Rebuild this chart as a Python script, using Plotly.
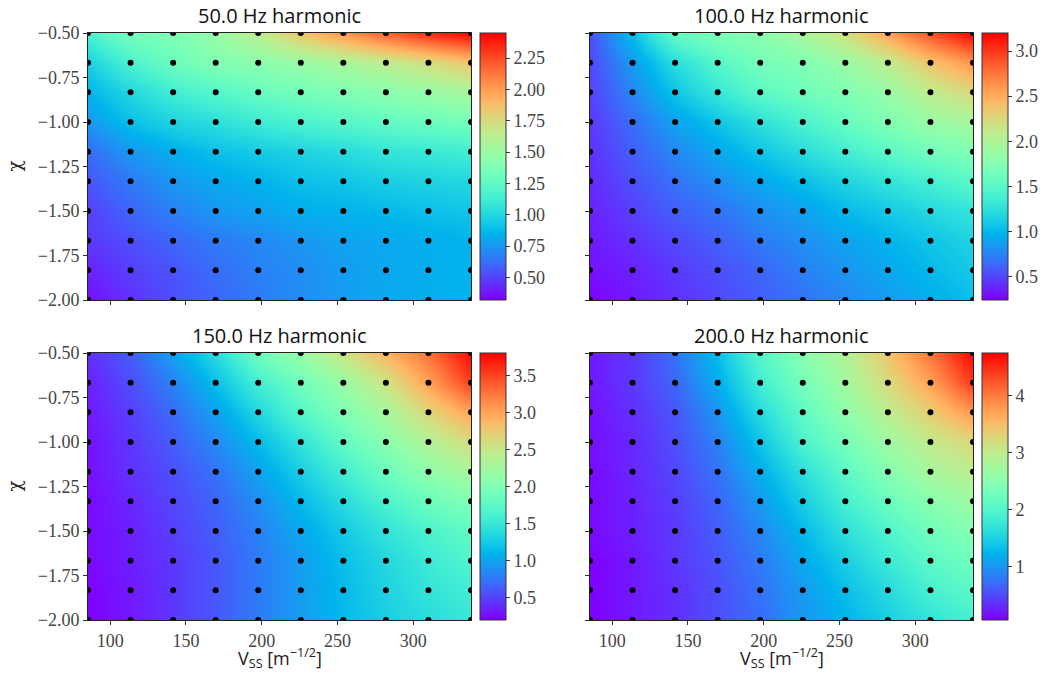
import math
import plotly.graph_objects as go

# Sampling grid: stream velocity scale (x) and spectral index chi (y)
vss = [85.3, 113.4, 141.5, 169.6, 197.7, 225.8, 253.9, 282.0, 310.1, 338.2]
chi = [-2.0, -1.833, -1.667, -1.5, -1.333, -1.167, -1.0, -0.833, -0.667, -0.5]

# Harmonic amplitude on the grid, one row per chi value (bottom to top)
amp_50 = [
    [0.36, 0.45, 0.53, 0.60, 0.66, 0.72, 0.77, 0.81, 0.83, 0.85],
    [0.41, 0.49, 0.55, 0.62, 0.68, 0.72, 0.77, 0.81, 0.83, 0.85],
    [0.47, 0.53, 0.60, 0.66, 0.70, 0.75, 0.79, 0.81, 0.83, 0.85],
    [0.49, 0.60, 0.68, 0.75, 0.79, 0.83, 0.85, 0.87, 0.90, 0.92],
    [0.55, 0.66, 0.75, 0.81, 0.85, 0.90, 0.92, 0.96, 0.98, 1.00],
    [0.62, 0.75, 0.83, 0.90, 0.94, 0.98, 1.02, 1.07, 1.09, 1.13],
    [0.75, 0.90, 0.98, 1.04, 1.11, 1.17, 1.21, 1.26, 1.30, 1.34],
    [0.85, 1.00, 1.13, 1.21, 1.28, 1.34, 1.39, 1.43, 1.49, 1.56],
    [0.96, 1.17, 1.30, 1.39, 1.43, 1.49, 1.56, 1.64, 1.73, 1.85],
    [1.17, 1.34, 1.39, 1.49, 1.64, 1.85, 2.02, 2.19, 2.34, 2.45],
]
amp_100 = [
    [0.24, 0.33, 0.42, 0.51, 0.60, 0.68, 0.77, 0.86, 0.95, 1.04],
    [0.30, 0.36, 0.45, 0.54, 0.62, 0.74, 0.83, 0.92, 1.01, 1.10],
    [0.33, 0.42, 0.51, 0.60, 0.71, 0.80, 0.89, 0.98, 1.07, 1.16],
    [0.36, 0.48, 0.60, 0.68, 0.80, 0.89, 1.01, 1.10, 1.19, 1.28],
    [0.39, 0.54, 0.68, 0.80, 0.92, 1.04, 1.16, 1.28, 1.39, 1.51],
    [0.42, 0.60, 0.77, 0.92, 1.07, 1.22, 1.37, 1.51, 1.63, 1.72],
    [0.45, 0.66, 0.89, 1.07, 1.25, 1.42, 1.57, 1.72, 1.87, 1.96],
    [0.48, 0.77, 1.07, 1.31, 1.51, 1.63, 1.72, 1.87, 2.08, 2.25],
    [0.51, 0.86, 1.22, 1.48, 1.66, 1.72, 1.87, 2.08, 2.37, 2.61],
    [0.54, 1.04, 1.57, 1.72, 1.78, 1.96, 2.19, 2.55, 2.90, 3.20],
]
amp_150 = [
    [0.20, 0.31, 0.45, 0.60, 0.78, 0.96, 1.14, 1.28, 1.39, 1.50],
    [0.20, 0.31, 0.45, 0.60, 0.78, 0.96, 1.14, 1.32, 1.46, 1.57],
    [0.24, 0.34, 0.45, 0.60, 0.78, 0.96, 1.17, 1.35, 1.53, 1.68],
    [0.24, 0.34, 0.49, 0.63, 0.81, 1.03, 1.24, 1.46, 1.64, 1.78],
    [0.24, 0.38, 0.52, 0.67, 0.88, 1.14, 1.39, 1.64, 1.86, 2.00],
    [0.27, 0.42, 0.56, 0.74, 0.99, 1.28, 1.57, 1.86, 2.11, 2.29],
    [0.27, 0.45, 0.63, 0.85, 1.14, 1.46, 1.78, 2.07, 2.36, 2.61],
    [0.31, 0.49, 0.70, 0.99, 1.35, 1.71, 2.00, 2.29, 2.65, 3.01],
    [0.34, 0.56, 0.81, 1.17, 1.57, 1.89, 2.18, 2.54, 3.01, 3.51],
    [0.42, 0.63, 0.99, 1.39, 1.89, 2.18, 2.54, 2.90, 3.26, 3.78],
]
amp_200 = [
    [0.06, 0.20, 0.34, 0.53, 0.72, 1.00, 1.23, 1.46, 1.70, 1.89],
    [0.06, 0.20, 0.34, 0.53, 0.76, 1.04, 1.32, 1.60, 1.89, 2.07],
    [0.06, 0.20, 0.39, 0.57, 0.81, 1.14, 1.46, 1.79, 2.07, 2.26],
    [0.11, 0.25, 0.39, 0.62, 0.90, 1.28, 1.65, 1.98, 2.26, 2.45],
    [0.11, 0.25, 0.43, 0.67, 1.04, 1.46, 1.89, 2.21, 2.49, 2.68],
    [0.11, 0.29, 0.48, 0.76, 1.18, 1.65, 2.07, 2.45, 2.77, 2.96],
    [0.15, 0.29, 0.53, 0.86, 1.37, 1.93, 2.31, 2.68, 3.01, 3.24],
    [0.15, 0.34, 0.57, 1.00, 1.60, 2.12, 2.54, 2.96, 3.34, 3.80],
    [0.20, 0.39, 0.67, 1.18, 1.84, 2.31, 2.73, 3.20, 3.71, 4.41],
    [0.20, 0.39, 0.76, 1.32, 2.03, 2.49, 2.87, 3.43, 4.04, 4.72],
]

titles = ["50.0 Hz harmonic", "100.0 Hz harmonic", "150.0 Hz harmonic", "200.0 Hz harmonic"]
grids = [amp_50, amp_100, amp_150, amp_200]
zranges = [(0.32, 2.45), (0.24, 3.20), (0.20, 3.80), (0.06, 4.74)]
cbar_ticks = [
    [0.50, 0.75, 1.00, 1.25, 1.50, 1.75, 2.00, 2.25],
    [0.5, 1.0, 1.5, 2.0, 2.5, 3.0],
    [0.5, 1.0, 1.5, 2.0, 2.5, 3.0, 3.5],
    [1, 2, 3, 4],
]
cbar_fmt = [".2f", ".1f", ".1f", "d"]
x_ticks = [100, 150, 200, 250, 300]
y_ticks = [-2.0, -1.75, -1.5, -1.25, -1.0, -0.75, -0.5]
x_label = "V<sub>SS</sub> [m<sup>−1/2</sup>]"
y_label = "χ"


def rainbow_scale(n=33):
    """Matplotlib-style 'rainbow' colormap as a Plotly colorscale."""
    stops = []
    for i in range(n):
        t = i / (n - 1)
        r = min(1.0, abs(2 * t - 0.5))
        g = math.sin(math.pi * t)
        b = max(0.0, math.cos(math.pi * t / 2))
        stops.append([t, f"rgb({round(r*255)},{round(g*255)},{round(b*255)})"])
    return stops


W, H = 1040, 674
SERIF = "Liberation Serif"
SANS = "Open Sans"
TICK_SIZE = 18

# pixel boxes of the four panels: (left, right) and (top, bottom)
px_cols = [(88, 471), (590, 973)]
px_rows = [(33, 300), (353, 620)]

fig = go.Figure()
colorscale = rainbow_scale()

for k in range(4):
    r, c = divmod(k, 2)
    xl, xr = px_cols[c]
    yt, yb = px_rows[r]
    xname = "x" if k == 0 else f"x{k+1}"
    yname = "y" if k == 0 else f"y{k+1}"
    ax_key = "xaxis" if k == 0 else f"xaxis{k+1}"
    ay_key = "yaxis" if k == 0 else f"yaxis{k+1}"
    zmin, zmax = zranges[k]

    fig.add_trace(go.Heatmap(
        x=vss, y=chi, z=grids[k], zsmooth="best",
        zmin=zmin, zmax=zmax, colorscale=colorscale,
        xaxis=xname, yaxis=yname, hoverinfo="skip",
        colorbar=dict(
            x=(xr + 9) / W, xanchor="left", xpad=0, ypad=0,
            y=1 - (yt + yb) / 2 / H, yanchor="middle",
            len=(yb - yt) / H, lenmode="fraction",
            thickness=26, thicknessmode="pixels",
            outlinewidth=1, outlinecolor="#333",
            tickvals=cbar_ticks[k], tickformat=cbar_fmt[k],
            ticks="outside", ticklen=4, tickcolor="#333",
            tickfont=dict(family=SERIF, size=TICK_SIZE, color="#444"),
        ),
    ))

    gx = [v for _ in chi for v in vss]
    gy = [y for y in chi for _ in vss]
    fig.add_trace(go.Scatter(
        x=gx, y=gy, mode="markers", cliponaxis=True,
        marker=dict(color="black", size=6),
        xaxis=xname, yaxis=yname, showlegend=False, hoverinfo="skip",
    ))

    fig.layout[ax_key] = dict(
        domain=[xl / W, xr / W], anchor=yname, range=[vss[0], vss[-1]],
        tickvals=x_ticks, showticklabels=(r == 1), ticks="outside",
        ticklen=4, tickcolor="#333", showline=True, linecolor="#222",
        linewidth=1, mirror=True, showgrid=False, zeroline=False,
        tickfont=dict(family=SERIF, size=TICK_SIZE, color="#444"),
        automargin=False,
    )
    fig.layout[ay_key] = dict(
        domain=[1 - yb / H, 1 - yt / H], anchor=xname, range=[chi[0], chi[-1]],
        tickvals=y_ticks, tickformat=".2f", showticklabels=(c == 0),
        ticks="outside", ticklen=4, tickcolor="#333", showline=True,
        linecolor="#222", linewidth=1, mirror=True, showgrid=False,
        zeroline=False, automargin=False,
        tickfont=dict(family=SERIF, size=TICK_SIZE, color="#444"),
    )

    # panel title
    fig.add_annotation(
        text=titles[k], xref="paper", yref="paper",
        x=(xl + xr) / 2 / W, y=1 - (yt - 2) / H, xanchor="center",
        yanchor="bottom", showarrow=False,
        font=dict(family=SANS, size=20, color="#111"),
    )
    # x label under the bottom row
    if r == 1:
        fig.add_annotation(
            text=x_label, xref="paper", yref="paper",
            x=(xl + xr) / 2 / W, y=1 / H, xanchor="center",
            yanchor="bottom", showarrow=False, borderpad=0,
            font=dict(family=SANS, size=18, color="#222"),
        )
    # y label left of the left column
    if c == 0:
        fig.add_annotation(
            text=y_label, xref="paper", yref="paper", textangle=-90,
            x=14 / W, y=1 - (yt + yb) / 2 / H, xanchor="center",
            yanchor="middle", showarrow=False,
            font=dict(family="DejaVu Serif", size=18, color="#222"),
        )

fig.update_layout(
    width=W, height=H, margin=dict(l=0, r=0, t=0, b=0),
    paper_bgcolor="white", plot_bgcolor="white", showlegend=False,
)

fig.write_html("out.html")
